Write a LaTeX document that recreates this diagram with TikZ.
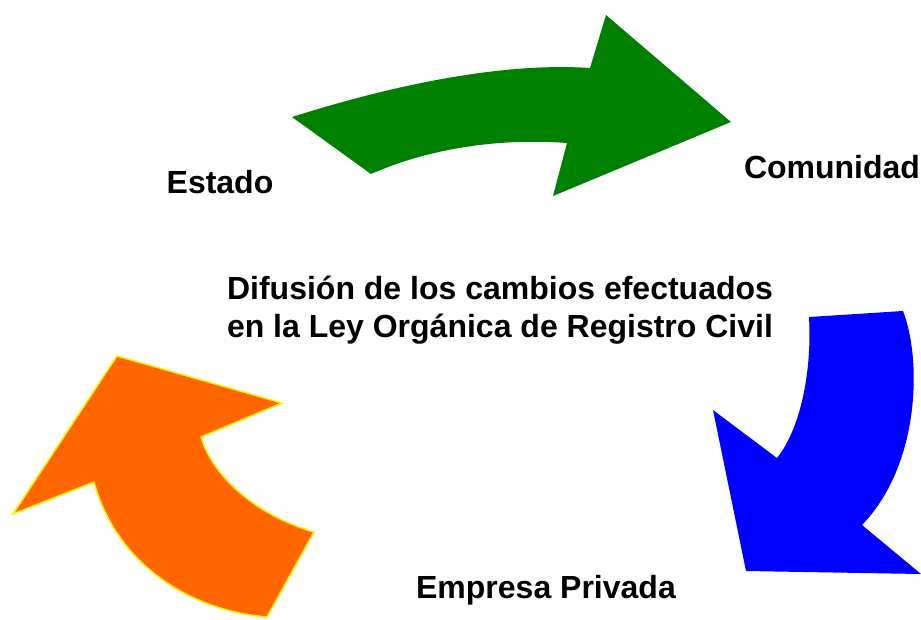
\documentclass[tikz,border=0pt]{standalone}
\usepackage{fontspec}
\setmainfont{Liberation Sans}
\usepackage{tikz}
\usetikzlibrary{positioning}

\definecolor{arrowgreen}{RGB}{0,128,0}
\definecolor{arrowblue}{RGB}{0,0,255}
\definecolor{arroworange}{RGB}{255,102,0}

\begin{document}
\begin{tikzpicture}[
            x=0.75pt,y=-0.75pt,
            lab/.style={inner sep=0,anchor=base,font=\fontsize{24}{28.5}\selectfont\bfseries},
            greenarrow/.style={fill=arrowgreen},
            bluearrow/.style={fill=arrowblue},
            orangearrow/.style={fill=arroworange,draw=yellow,line width=1.1pt,line join=miter}
          ]
          \useasboundingbox (0,0) rectangle (921,619);

          %arrows
          \path[greenarrow] (292,117) .. controls (390,86) and (500,62) .. (590,68)
            -- (606,15) -- (731,122) -- (553,196) -- (567,143)
            .. controls (500,138) and (430,148) .. (371,174) -- cycle;
          \path[bluearrow] (809,317) -- (903,311)
            .. controls (922,360) and (920,465) .. (862,525)
            -- (921,574) -- (746,571) -- (713,410) -- (777,458)
            .. controls (801,428) and (812,370) .. (809,317) -- cycle;
          \path[orangearrow] (117,356) -- (282,403) -- (201,437)
            .. controls (212,475) and (255,515) .. (314,532)
            -- (267,617) .. controls (185,610) and (115,560) .. (94,482)
            -- (13,514) -- cycle;

          %labels
          \node[lab] (estado) at (220,193) {Estado};
          \node[lab] (comunidad) at (832,178) {Comunidad};
          \node[lab] (empresa) at (546,598) {Empresa Privada};
          \node[lab,align=center] (difusion) at (500,337) {Difusión de los cambios efectuados\\en la Ley Orgánica de Registro Civil};

      \end{tikzpicture}
\end{document}
